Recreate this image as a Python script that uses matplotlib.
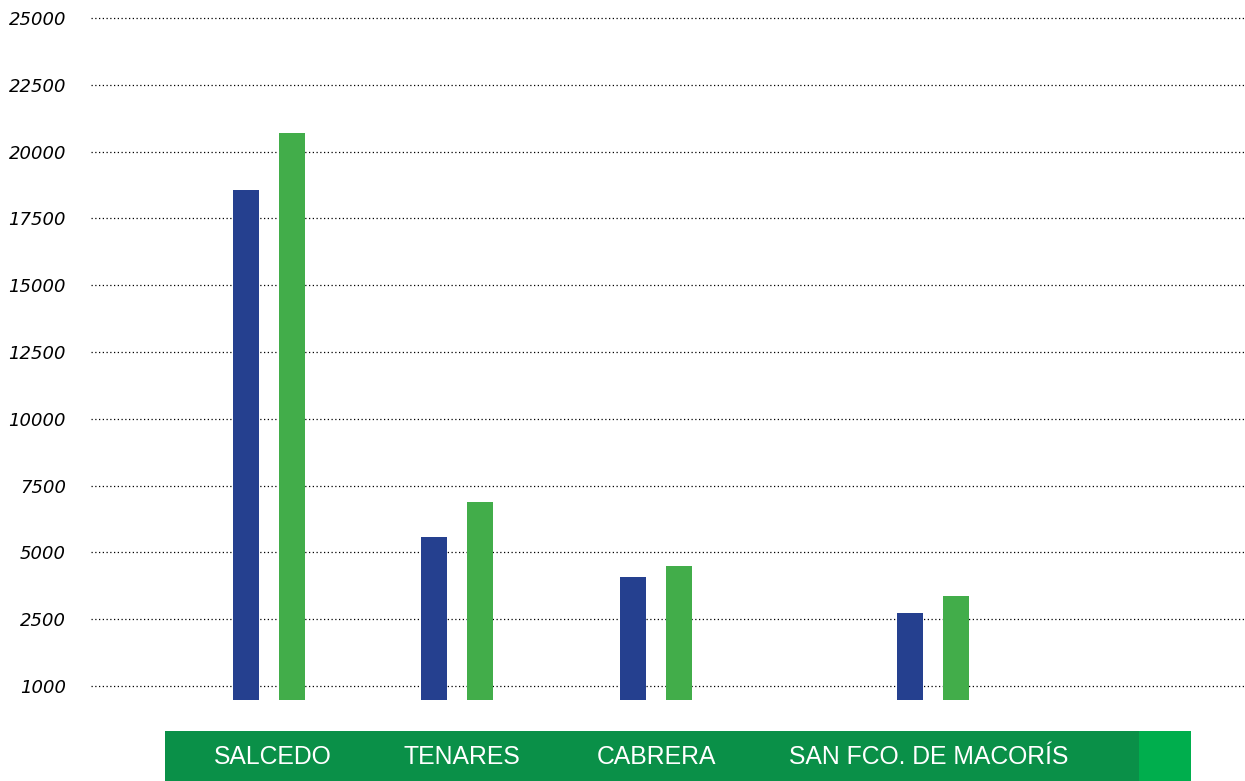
import matplotlib.pyplot as plt
import matplotlib.transforms as mtransforms
from matplotlib.patches import Rectangle

# data
categories = ['SALCEDO', 'TENARES', 'CABRERA', 'SAN FCO. DE MACORÍS']
serie_azul = [18550, 5560, 4070, 2720]
serie_verde = [20680, 6870, 4480, 3360]
ticks = [0, 2500, 5000, 7500, 10000, 12500, 15000, 17500, 20000, 22500, 25000]
tick_labels = ['1000', '2500', '5000', '7500', '10000', '12500', '15000',
               '17500', '20000', '22500', '25000']

# layout (x in pixel-like units of the figure)
centers = [269, 457, 656, 933]
label_x = [273, 462, 656, 929]
off = 23
w = 26
base = -524

fig = plt.figure(figsize=(12.45, 7.81), dpi=100)
ax = fig.add_axes([91/1245, 1-700/781, (1245-91)/1245, 690/781])
ax.set_xlim(91, 1245)
ax.set_ylim(base, 25300)

for t in ticks:
    ax.axhline(t, color='k', lw=0.9, ls=(0, (1, 2)), zorder=1)

xb = [c - off for c in centers]
xg = [c + off for c in centers]
ax.bar(xb, [v - base for v in serie_azul], w, bottom=base, color='#25408f', zorder=2)
ax.bar(xg, [v - base for v in serie_verde], w, bottom=base, color='#42ad4a', zorder=2)

ax.set_yticks(ticks)
ax.set_yticklabels(tick_labels, fontsize=13, style='oblique')
ax.tick_params(axis='y', length=0, pad=18)
ax.set_xticks([])
for s in ax.spines.values():
    s.set_visible(False)

# green band with category names
fig.add_artist(Rectangle((165/1245, 0), (1139-165)/1245, 50/781,
                         transform=fig.transFigure, color='#0a9048', lw=0, zorder=-1))
fig.add_artist(Rectangle((1139/1245, 0), (1191-1139)/1245, 50/781,
                         transform=fig.transFigure, color='#00ae4d', lw=0, zorder=-1))
trans = mtransforms.blended_transform_factory(ax.transData, fig.transFigure)
for x, lab in zip(label_x, categories):
    ax.text(x, 24/781, lab, transform=trans, ha='center', va='center',
            color='white', fontsize=17.8, family='Liberation Sans', clip_on=False)

fig.savefig('out.png')
